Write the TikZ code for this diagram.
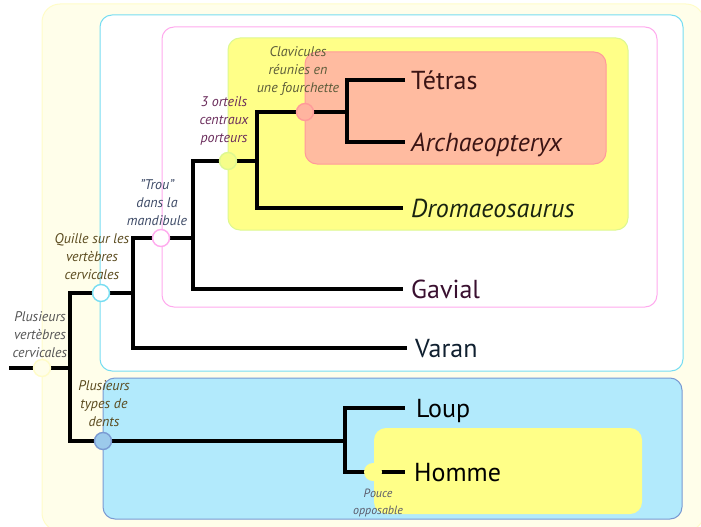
\documentclass[tikz,border=0pt]{standalone}
\usepackage{fontspec}
\setmainfont{PT Sans}
\definecolor{outerfill}{HTML}{FFFEEA}
\definecolor{outerline}{HTML}{FFFCC8}
\definecolor{cyanline}{HTML}{77DDF2}
\definecolor{pinkline}{HTML}{FFAAEE}
\definecolor{yelfill}{HTML}{FFFF88}
\definecolor{yelline}{HTML}{DDF890}
\definecolor{salfill}{HTML}{FFBBA0}
\definecolor{salline}{HTML}{FF9A9A}
\definecolor{bluefill}{HTML}{B2EAFC}
\definecolor{blueline}{HTML}{7A9AD2}
\definecolor{cOlive}{HTML}{5C5C3A}
\definecolor{cPurple}{HTML}{6B2D5C}
\definecolor{cSlate}{HTML}{3D4A66}
\definecolor{cBrown}{HTML}{5A4A1E}
\definecolor{cGrey}{HTML}{555555}
\definecolor{cPouce}{HTML}{5A5A6A}
\definecolor{tMaroon}{HTML}{3A1414}
\definecolor{tGreen}{HTML}{1A2410}
\definecolor{tPlum}{HTML}{3A1030}
\definecolor{tNavy}{HTML}{102030}
\begin{document}
\begin{tikzpicture}[x=1pt,y=-1pt,
  tree/.style={line width=3.6pt, black},
  box/.style={rounded corners=12pt, line width=1pt},
  dot/.style={circle, minimum size=17pt, inner sep=0pt, line width=1.4pt},
  leaf/.style={font=\fontsize{26}{30}\selectfont, inner sep=0pt, anchor=base west},
  leafit/.style={leaf, font=\fontsize{26}{30}\selectfont\itshape},
  lab/.style={font=\fontsize{14}{18}\selectfont\itshape, align=center, inner sep=0pt}
]
\useasboundingbox (0,0) rectangle (701,527);
% boxes
\draw[rounded corners=18pt, fill=outerfill, draw=outerline, line width=1pt] (42,4) rectangle (704,531);
\draw[box, draw=cyanline, fill=white] (100,15) rectangle (683,371);
\draw[box, draw=pinkline, fill=white] (162,27) rectangle (657,307);
\draw[box, draw=yelline, fill=yelfill] (228,38) rectangle (628,230);
\draw[box, draw=salline, fill=salfill] (305,52) rectangle (606,164);
\draw[box, draw=blueline, fill=bluefill] (103,378) rectangle (682,519);
\fill[rounded corners=12pt, yelfill] (374,428) rectangle (642,514);
% coordinates
\coordinate (r0) at (9,368);
\coordinate (p0) at (42,368);
\coordinate (j0) at (70,368);
\coordinate (p1) at (101,293);
\coordinate (j1) at (133,293);
\coordinate (p2) at (103,441);
\coordinate (j2) at (345,441);
\coordinate (p3) at (161,238);
\coordinate (j3) at (193,238);
\coordinate (p4) at (228,161);
\coordinate (j4) at (257,161);
\coordinate (p5) at (305,112);
\coordinate (j5) at (347,112);
\coordinate (p6) at (373,472);
\coordinate (eTetras) at (405,80);
\coordinate (eArchaeo) at (405,142);
\coordinate (eDromaeo) at (403,208);
\coordinate (eGavial) at (403,289);
\coordinate (eVaran) at (407,348);
\coordinate (eLoup) at (405,408);
\coordinate (eHomme) at (405,472);
% tree
\draw[tree] (r0) -- (j0);
\draw[tree] (p1) -| (j0) |- (p2);
\draw[tree] (p1) -- (j1);
\draw[tree] (p3) -| (j1) |- (eVaran);
\draw[tree] (p3) -- (j3);
\draw[tree] (p4) -| (j3) |- (eGavial);
\draw[tree] (p4) -- (j4);
\draw[tree] (p5) -| (j4) |- (eDromaeo);
\draw[tree] (p5) -- (j5);
\draw[tree] (eTetras) -| (j5) |- (eArchaeo);
\draw[tree] (p2) -- (j2);
\draw[tree] (eLoup) -| (j2) |- (eHomme);
% character dots
\node[dot, fill=outerfill, draw=outerline] (c0) at (p0) {};
\node[dot, fill=white, draw=cyanline] (c1) at (p1) {};
\node[dot, fill=bluefill!60!blueline, draw=blueline] (c2) at (p2) {};
\node[dot, fill=white, draw=pinkline] (c3) at (p3) {};
\node[dot, fill=yelfill!70!yelline, draw=yelline] (c4) at (p4) {};
\node[dot, fill=salfill!80!salline, draw=salline] (c5) at (p5) {};
\node[dot, fill=yelfill, draw=none, minimum size=18pt] (c6) at (p6) {};
% taxa
\node[leaf, text=tMaroon] (tTetras) at ([xshift=6pt,yshift=-9pt]eTetras) {Tétras};
\node[leafit, text=tMaroon] (tArchaeo) at ([xshift=6pt,yshift=-9pt]eArchaeo) {Archaeopteryx};
\node[leafit, text=tGreen] (tDromaeo) at ([xshift=8pt,yshift=-9pt]eDromaeo) {Dromaeosaurus};
\node[leaf, text=tPlum] (tGavial) at ([xshift=8pt,yshift=-9pt]eGavial) {Gavial};
\node[leaf, text=tNavy] (tVaran) at ([xshift=8pt,yshift=-9pt]eVaran) {Varan};
\node[leaf] (tLoup) at ([xshift=11pt,yshift=-9pt]eLoup) {Loup};
\node[leaf] (tHomme) at ([xshift=9pt,yshift=-9pt]eHomme) {Homme};
% characters
\node[lab, text=cOlive] (lClav) at (298,71) {Clavicules\\réunies en\\une fourchette};
\node[lab, text=cPurple] (lOrt) at (224,121) {3 orteils\\centraux\\porteurs};
\node[lab, text=cSlate] (lTrou) at (157,203) {"Trou"\\dans la\\mandibule};
\node[lab, text=cBrown] (lQuille) at (92,257) {Quille sur les\\vertèbres\\cervicales};
\node[lab, text=cGrey] (lPlus) at (40,335) {Plusieurs\\vertèbres\\cervicales};
\node[lab, text=cBrown] (lDents) at (104,404) {Plusieurs\\types de\\dents};
\node[lab, text=cPouce, font=\fontsize{12}{17}\selectfont\itshape] (lPouce) at (378,503) {Pouce\\opposable};
\end{tikzpicture}
\end{document}
